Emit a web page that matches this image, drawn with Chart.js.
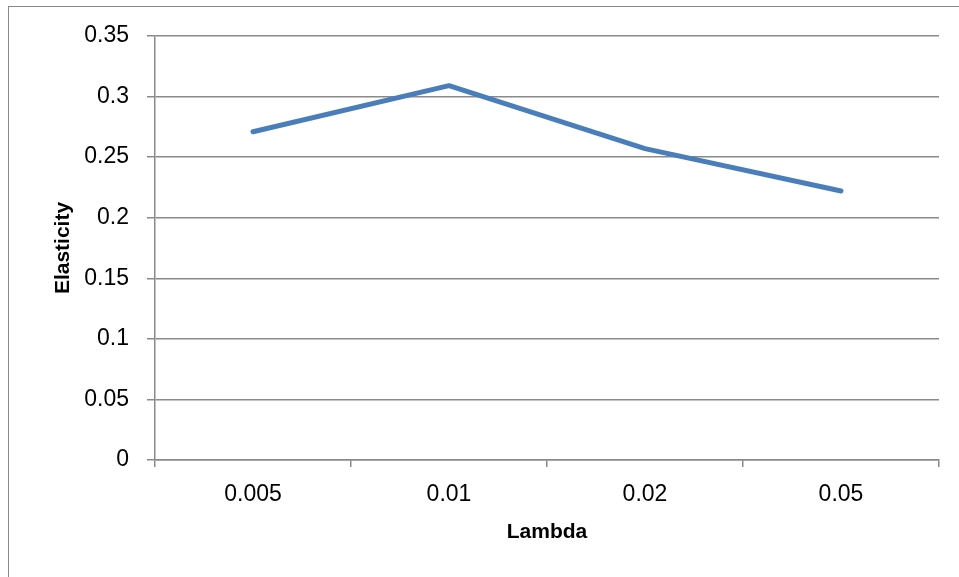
<!DOCTYPE html>
<html>
<head>
<meta charset="utf-8">
<script src="https://cdn.jsdelivr.net/npm/chart.js@4"></script>
<style>
  body { margin: 0; background: #fff; }
  #wrap { position: relative; width: 959px; height: 577px; overflow: hidden; }
  #frame { position: absolute; left: 8px; top: 6px; width: 1000px; height: 700px;
           border-left: 1.5px solid #8a8a8a; border-top: 1.5px solid #8a8a8a; }
  #line-chart { position: absolute; left: 0; top: 0; }
</style>
</head>
<body>
<div id="wrap">
  <div id="frame"></div>
  <canvas id="line-chart" width="959" height="577"></canvas>
</div>
<script>
// values
var lambdas = ['0.005', '0.01', '0.02', '0.05'];
var elasticity = [0.271, 0.309, 0.257, 0.222];
var yTicks = [0, 0.05, 0.1, 0.15, 0.2, 0.25, 0.3, 0.35];

var gridColor = '#8a8a8a';
var font = { family: "'Liberation Sans', Arial, sans-serif", size: 23 };

new Chart(document.getElementById('line-chart'), {
    type: 'line',
    data: {
        labels: lambdas,
        datasets: [{
            label: 'Elasticity',
            data: elasticity,
            borderColor: '#4a7ebb',
            borderWidth: 5,
            borderCapStyle: 'round',
            borderJoinStyle: 'round',
            pointRadius: 0,
            tension: 0,
            fill: false
        }]
    },
    options: {
        responsive: false,
        animation: false,
        layout: { padding: { left: 47, top: 36, right: 20, bottom: 28 } },
        plugins: { legend: { display: false }, tooltip: { enabled: false } },
        scales: {
            x: {
                offset: true,
                grid: { offset: true, drawOnChartArea: false, drawTicks: true, tickLength: 7, color: gridColor, lineWidth: 1.5 },
                border: { color: gridColor, width: 1.5 },
                ticks: { color: '#000', font: font, padding: 14 },
                title: { display: true, text: 'Lambda', color: '#000', font: { family: font.family, size: 21, weight: 'bold' } },
                afterFit: function(scale) { scale.height = 89; }
            },
            y: {
                min: 0,
                max: 0.35,
                afterBuildTicks: function(scale) {
                    scale.ticks = yTicks.map(function(v) { return { value: v }; });
                },
                grid: { color: gridColor, lineWidth: 1.5, tickLength: 8 },
                border: { color: gridColor, width: 1.5 },
                ticks: {
                    color: '#000', font: font, padding: 18,
                    callback: function(v) { return String(Number(v.toFixed(2))); }
                },
                title: { display: true, text: 'Elasticity', color: '#000', font: { family: font.family, size: 21, weight: 'bold' } },
                afterFit: function(scale) { scale.width = 108; }
            }
        }
    }
});
</script>
</body>
</html>
